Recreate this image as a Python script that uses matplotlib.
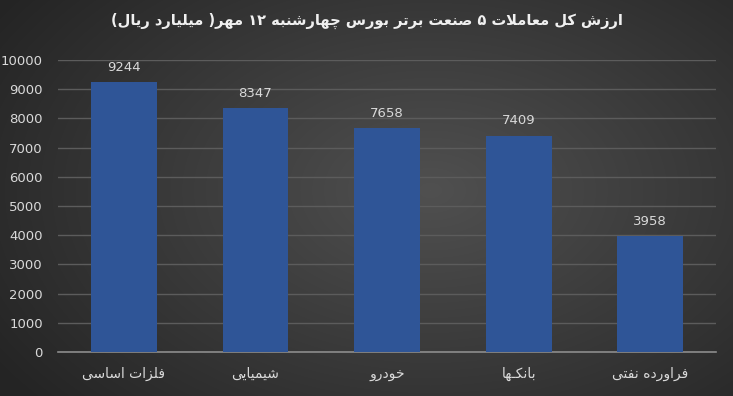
import numpy as np
import matplotlib
matplotlib.use("Agg")
import matplotlib.pyplot as plt

categories = ["فلزات اساسی", "شیمیایی", "خودرو", "بانکـها", "فراورده نفتی"]
values = [9244, 8347, 7658, 7409, 3958]
yticks = [0, 1000, 2000, 3000, 4000, 5000, 6000, 7000, 8000, 9000, 10000]
title = "ارزش کل معاملات ۵ صنعت برتر بورس چهارشنبه ۱۲ مهر( میلیارد ریال)"

# --- minimal Arabic/Persian shaping (presentation forms) + visual reordering ---
FORMS = {
    'ا': (0xFE8D, 0xFE8E, None, None),
    'ب': (0xFE8F, 0xFE90, 0xFE91, 0xFE92),
    'پ': (0xFB56, 0xFB57, 0xFB58, 0xFB59),
    'ت': (0xFE95, 0xFE96, 0xFE97, 0xFE98),
    'ث': (0xFE99, 0xFE9A, 0xFE9B, 0xFE9C),
    'ج': (0xFE9D, 0xFE9E, 0xFE9F, 0xFEA0),
    'چ': (0xFB7A, 0xFB7B, 0xFB7C, 0xFB7D),
    'ح': (0xFEA1, 0xFEA2, 0xFEA3, 0xFEA4),
    'خ': (0xFEA5, 0xFEA6, 0xFEA7, 0xFEA8),
    'د': (0xFEA9, 0xFEAA, None, None),
    'ذ': (0xFEAB, 0xFEAC, None, None),
    'ر': (0xFEAD, 0xFEAE, None, None),
    'ز': (0xFEAF, 0xFEB0, None, None),
    'ژ': (0xFB8A, 0xFB8B, None, None),
    'س': (0xFEB1, 0xFEB2, 0xFEB3, 0xFEB4),
    'ش': (0xFEB5, 0xFEB6, 0xFEB7, 0xFEB8),
    'ص': (0xFEB9, 0xFEBA, 0xFEBB, 0xFEBC),
    'ض': (0xFEBD, 0xFEBE, 0xFEBF, 0xFEC0),
    'ط': (0xFEC1, 0xFEC2, 0xFEC3, 0xFEC4),
    'ظ': (0xFEC5, 0xFEC6, 0xFEC7, 0xFEC8),
    'ع': (0xFEC9, 0xFECA, 0xFECB, 0xFECC),
    'غ': (0xFECD, 0xFECE, 0xFECF, 0xFED0),
    'ف': (0xFED1, 0xFED2, 0xFED3, 0xFED4),
    'ق': (0xFED5, 0xFED6, 0xFED7, 0xFED8),
    'ک': (0xFB8E, 0xFB8F, 0xFB90, 0xFB91),
    'گ': (0xFB92, 0xFB93, 0xFB94, 0xFB95),
    'ل': (0xFEDD, 0xFEDE, 0xFEDF, 0xFEE0),
    'م': (0xFEE1, 0xFEE2, 0xFEE3, 0xFEE4),
    'ن': (0xFEE5, 0xFEE6, 0xFEE7, 0xFEE8),
    'ه': (0xFEE9, 0xFEEA, 0xFEEB, 0xFEEC),
    'و': (0xFEED, 0xFEEE, None, None),
    'ی': (0xFBFC, 0xFBFD, 0xFBFE, 0xFBFF),
    'ـ': (0x0640, 0x0640, 0x0640, 0x0640),
}


def shape(text):
    chars = list(text)
    out = []
    i = 0
    n = len(chars)

    def joins_next(c):
        f = FORMS.get(c)
        return f is not None and f[2] is not None

    while i < n:
        c = chars[i]
        if c not in FORMS:
            out.append(c)
            i += 1
            continue
        prev = chars[i - 1] if i > 0 else None
        linked_prev = prev is not None and joins_next(prev)
        if c == 'ل' and i + 1 < n and chars[i + 1] == 'ا':
            out.append(chr(0xFEFC if linked_prev else 0xFEFB))
            i += 2
            continue
        nxt = chars[i + 1] if i + 1 < n else None
        linked_next = joins_next(c) and nxt in FORMS
        iso, fin, ini, med = FORMS[c]
        if linked_prev and linked_next:
            code = med
        elif linked_prev:
            code = fin
        elif linked_next:
            code = ini
        else:
            code = iso
        out.append(chr(code))
        i += 1
    return out


def rtl(text):
    glyphs = shape(text)[::-1]
    mirror = {'(': ')', ')': '('}
    glyphs = [mirror.get(g, g) for g in glyphs]
    res, run = [], []
    for g in glyphs:
        if g.isdigit():
            run.append(g)
        else:
            if run:
                res.extend(run[::-1])
                run = []
            res.append(g)
    if run:
        res.extend(run[::-1])
    return ''.join(res)


W, H = 7.33, 3.96
fig = plt.figure(figsize=(W, H), dpi=100)

bg = fig.add_axes([0, 0, 1, 1], zorder=-10)
yy, xx = np.mgrid[0:396, 0:733]
cx, cy = 430, 190
d = np.sqrt(((xx - cx) / 520.0) ** 2 + ((yy - cy) / 330.0) ** 2)
d = np.clip(d, 0, 1)
c_in, c_out = 80 / 255, 36 / 255
g = c_in + (c_out - c_in) * d
bg.imshow(np.dstack([g, g, g]), aspect='auto', extent=[0, 1, 0, 1])
bg.axis('off')

ax = fig.add_axes([58 / 733, 1 - 352 / 396, (716 - 58) / 733, (352 - 60) / 396])
ax.set_facecolor('none')
x = np.arange(len(categories))
ax.bar(x, values, width=0.5, color='#2F5597', zorder=3)
ax.set_xlim(-0.5, len(categories) - 0.5)
ax.set_ylim(0, 10000)
ax.set_yticks(yticks)
ax.set_yticklabels([str(t) for t in yticks])
ax.set_xticks(x)
ax.set_xticklabels([rtl(c) for c in categories], fontsize=10, color='#d9d9d9',
                   family='DejaVu Sans')
ax.tick_params(axis='y', length=0, pad=11, labelsize=9.5, labelcolor='#d9d9d9')
ax.tick_params(axis='x', length=0, pad=11)
ax.grid(axis='y', color='#5c5c5c', linewidth=1, zorder=0)
for s in ['top', 'right', 'left']:
    ax.spines[s].set_visible(False)
ax.spines['bottom'].set_color('#8c8c8c')
ax.spines['bottom'].set_linewidth(1.2)

for xi, v in zip(x, values):
    ax.annotate(str(v), (xi, v), xytext=(0, 6), textcoords='offset points',
                ha='center', va='bottom', fontsize=9.5, color='#d9d9d9')

fig.text(0.5, 1 - 21 / 396, rtl(title), ha='center', va='center',
         fontsize=10.5, fontweight='bold', color='#f0f0f0', family='DejaVu Sans')

fig.savefig('out.png', dpi=100)
